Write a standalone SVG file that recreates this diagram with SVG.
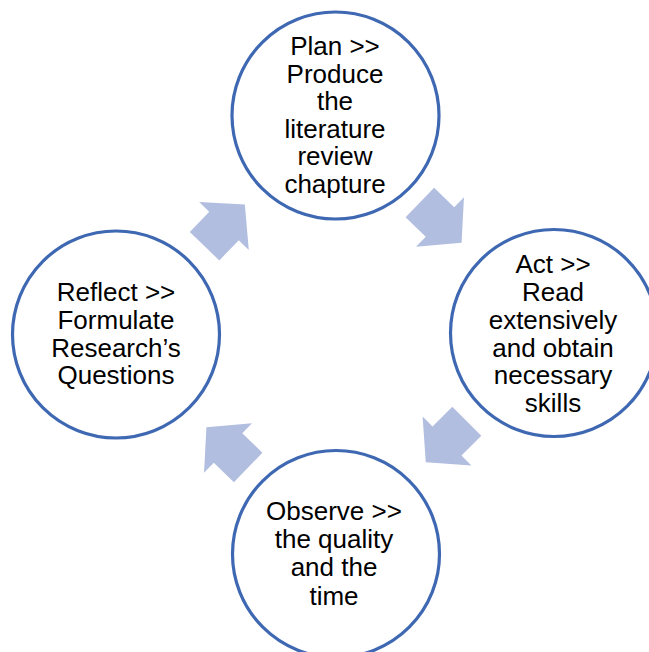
<svg xmlns="http://www.w3.org/2000/svg" width="649" height="652" viewBox="0 0 649 652">
<style>
.node circle{fill:#fff;stroke:#3f68b3;stroke-width:3.2}
.node text{font-family:"Liberation Sans",Arial,sans-serif;font-size:26px;fill:#000;text-anchor:middle}
.arrow{fill:#b1bee0}
</style>
<defs>
<path id="arr" d="M -28,-20.5 L 0,-20.5 L 0,-34.5 L 30,0 L 0,34.5 L 0,20.5 L -28,20.5 Z"/>
</defs>
<rect width="649" height="652" fill="#fff"/>
<g id="connectors">
<use href="#arr" class="arrow" transform="translate(224,226) rotate(-46)"/>
<use href="#arr" class="arrow" transform="translate(440,222) rotate(44)"/>
<use href="#arr" class="arrow" transform="translate(447,441) rotate(135)"/>
<use href="#arr" class="arrow" transform="translate(228,448) rotate(-136)"/>
</g>
<g id="plan" class="node">
<circle cx="335.5" cy="115.5" r="103.5"/>
<text x="335" y="55">Plan &gt;&gt;</text>
<text x="335" y="82.5">Produce</text>
<text x="335" y="110">the</text>
<text x="335" y="137.5">literature</text>
<text x="335" y="165">review</text>
<text x="335" y="192.5">chapture</text>
</g>
<g id="act" class="node">
<circle cx="554" cy="333" r="103.5"/>
<text x="553" y="273">Act &gt;&gt;</text>
<text x="553" y="301">Read</text>
<text x="553" y="328.5">extensively</text>
<text x="553" y="356.5">and obtain</text>
<text x="553" y="384">necessary</text>
<text x="553" y="411.5">skills</text>
</g>
<g id="observe" class="node">
<circle cx="336" cy="554" r="103.5"/>
<text x="334" y="520">Observe &gt;&gt;</text>
<text x="334" y="548">the quality</text>
<text x="334" y="576">and the</text>
<text x="334" y="604.5">time</text>
</g>
<g id="reflect" class="node">
<circle cx="116" cy="334.5" r="103.5"/>
<text x="116" y="301">Reflect &gt;&gt;</text>
<text x="116" y="328.5">Formulate</text>
<text x="116" y="356.5">Research’s</text>
<text x="116" y="384">Questions</text>
</g>
</svg>
